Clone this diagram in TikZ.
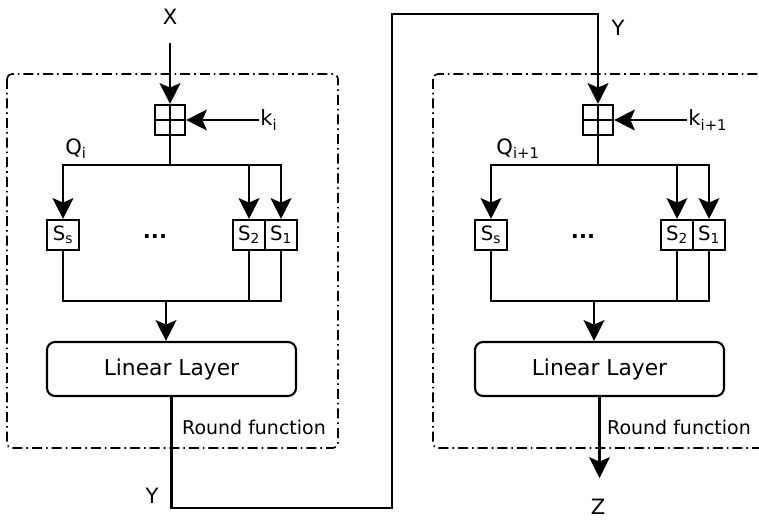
\documentclass[tikz,border=0pt]{standalone}
\usepackage{fontspec}
\setmainfont{DejaVu Sans}
\usepackage{tikz}
\usetikzlibrary{arrows.meta, positioning}

\begin{document}
\begin{tikzpicture}[
  x=0.25mm, y=-0.25mm,
  line width=1.5pt, line cap=rect,
  font=\fontsize{15}{18}\selectfont,
  addbox/.style={draw, minimum size=7.5mm, inner sep=0pt,
                 path picture={\draw (path picture bounding box.north) -- (path picture bounding box.south)
                                     (path picture bounding box.west) -- (path picture bounding box.east);}},
  sbox/.style={draw, minimum width=8mm, minimum height=7.5mm, inner sep=0pt,
               font=\fontsize{14}{16}\selectfont},
  layer/.style={draw, rounded corners=2mm, minimum width=62.25mm, minimum height=13.5mm,
                font=\fontsize{15.5}{18}\selectfont},
  roundbox/.style={draw, line width=1.1pt, line cap=butt, rounded corners=1.2mm,
                   dash pattern=on 2.5mm off 1mm on 0.4mm off 1mm},
  note/.style={inner sep=1pt, font=\fontsize{13.5}{16}\selectfont},
  lbl/.style={inner sep=1pt},
  a/.style={-{Stealth[length=5.2mm, width=5.2mm, inset=1.1mm]}}
]
\clip (0,0) rectangle (759,520);

% round i
\draw[roundbox] (7,74) rectangle (338,448);
\node[lbl] (xlbl) at (170,17) {X};
\coordinate (xin) at (170,44);
\node[addbox] (addL) at (170,120) {};
\node[lbl, anchor=west] (kL) at (258,120) {k\textsubscript{i}};
\node[lbl] (qL) at (76,149) {Q\textsubscript{i}};
\coordinate (brL) at (170,165);
\node[sbox] (ssL) at (63,235) {S\textsubscript{s}};
\node[sbox] (s2L) at (249,235) {S\textsubscript{2}};
\node[sbox, right=-1.5pt of s2L] (s1L) {S\textsubscript{1}};
\node (dotsL) at (155,236) {\textbf{...}};
\coordinate (mgL) at (166,301);
\node[layer] (linL) at (171.5,369) {Linear Layer};
\node[note] (rfL) at (254,427) {Round function};
\node[lbl] (yL) at (152,496) {Y};

\draw[a] (xin) -- (addL);
\draw[a] (kL) -- (addL);
\draw (addL) -- (brL);
\draw[a] (s1L |- brL) -- (ssL |- brL) -- (ssL);
\draw[a] (s2L |- brL) -- (s2L);
\draw[a] (s1L |- brL) -- (s1L);
\draw (ssL) -- (ssL |- mgL) -- (s1L |- mgL) -- (s1L);
\draw (s2L) -- (s2L |- mgL);
\draw[a] (mgL) -- (mgL |- linL.north);

% round i+1
\draw[roundbox] (433,74) rectangle (766,448);
\node[lbl] (yR) at (618,28) {Y};
\node[addbox] (addR) at (598,120) {};
\node[lbl, anchor=west] (kR) at (686,120) {k\textsubscript{i+1}};
\node[lbl] (qR) at (518,149) {Q\textsubscript{i+1}};
\coordinate (brR) at (598,165);
\node[sbox] (ssR) at (491,235) {S\textsubscript{s}};
\node[sbox] (s2R) at (677,235) {S\textsubscript{2}};
\node[sbox, right=-1.5pt of s2R] (s1R) {S\textsubscript{1}};
\node (dotsR) at (583,236) {\textbf{...}};
\coordinate (mgR) at (594,301);
\node[layer] (linR) at (599.5,369) {Linear Layer};
\node[note] (rfR) at (679,427) {Round function};
\coordinate (zend) at (599.5,478);
\node[lbl] (zlbl) at (598,507) {Z};

\draw[a] (kR) -- (addR);
\draw (addR) -- (brR);
\draw[a] (s1R |- brR) -- (ssR |- brR) -- (ssR);
\draw[a] (s2R |- brR) -- (s2R);
\draw[a] (s1R |- brR) -- (s1R);
\draw (ssR) -- (ssR |- mgR) -- (s1R |- mgR) -- (s1R);
\draw (s2R) -- (s2R |- mgR);
\draw[a] (mgR) -- (mgR |- linR.north);
\draw[a] (linR.south) -- (zend);

% Y from round i into round i+1
\coordinate (turnB) at (392,508);
\coordinate (turnT) at (392,14);
\draw[a] (linL.south) |- (turnB) -- (turnT) -| (addR.north);
\end{tikzpicture}
\end{document}
